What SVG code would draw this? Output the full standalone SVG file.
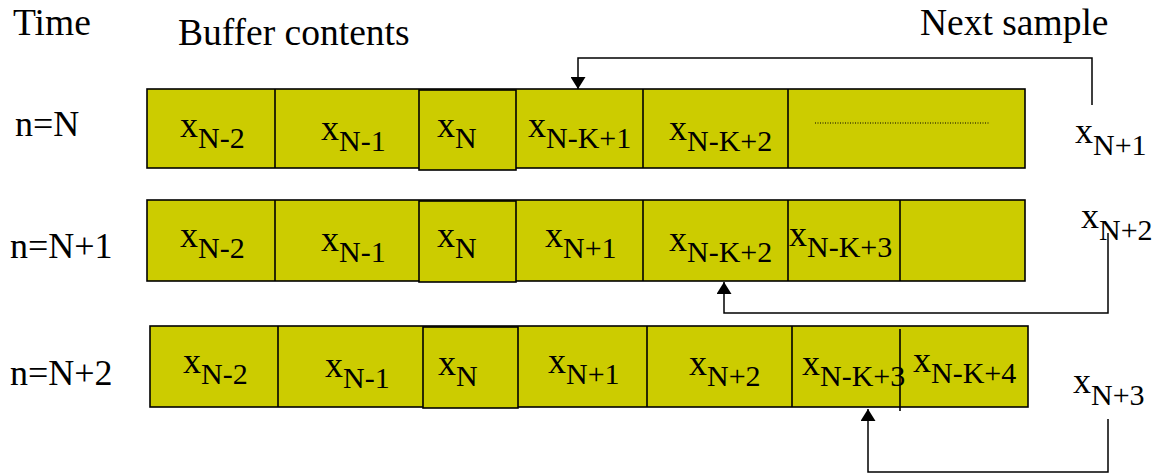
<svg xmlns="http://www.w3.org/2000/svg" width="1158" height="473" viewBox="0 0 1158 473">
<style>
text{font-family:'Liberation Serif','Tinos','DejaVu Serif',serif;font-size:36px;fill:#000}
.lbl{font-size:37.5px}
.s{font-size:30px}
.cell{fill:#CCCC00;stroke:#000;stroke-width:1.6}
.div{stroke:#000;stroke-width:1.6;fill:none}
.con{stroke:#000;stroke-width:1.5;fill:none}
</style>
<defs>
<marker id="ah" viewBox="0 0 12 15" refX="12" refY="7.5" markerWidth="12" markerHeight="15" markerUnits="userSpaceOnUse" orient="auto">
<path d="M0,0 L12,7.5 L0,15 Z" fill="#000"/>
</marker>
</defs>
<g id="labels">
<text class="lbl" x="13" y="35">Time</text>
<text class="lbl" x="178" y="45">Buffer contents</text>
<text class="lbl" x="920" y="35">Next sample</text>
<text x="15" y="136">n=N</text>
<text x="10" y="258">n=N+1</text>
<text x="10" y="385">n=N+2</text>
</g>
<g id="row1">
<rect class="cell" x="147" y="89" width="878" height="79"/>
<rect class="cell" x="419" y="90" width="97" height="80"/>
<line class="div" x1="275" y1="89" x2="275" y2="168"/>
<line class="div" x1="643" y1="89" x2="643" y2="168"/>
<line class="div" x1="788" y1="89" x2="788" y2="168"/>
<line x1="815" y1="123" x2="989" y2="123" stroke="#000" stroke-width="1" stroke-dasharray="1 1.5"/>
<text x="180" y="137">x<tspan class="s" dy="11">N-2</tspan></text>
<text x="321" y="140">x<tspan class="s" dy="11">N-1</tspan></text>
<text x="437" y="137">x<tspan class="s" dy="11">N</tspan></text>
<text x="528" y="137">x<tspan class="s" dy="11">N-K+1</tspan></text>
<text x="669" y="140">x<tspan class="s" dy="11">N-K+2</tspan></text>
</g>
<g id="row2">
<rect class="cell" x="147" y="200" width="878" height="81"/>
<rect class="cell" x="419" y="201" width="97" height="81"/>
<line class="div" x1="275" y1="200" x2="275" y2="281"/>
<line class="div" x1="643" y1="200" x2="643" y2="281"/>
<line class="div" x1="788" y1="200" x2="788" y2="281"/>
<line class="div" x1="900" y1="200" x2="900" y2="281"/>
<text x="180" y="247">x<tspan class="s" dy="11">N-2</tspan></text>
<text x="321" y="251">x<tspan class="s" dy="11">N-1</tspan></text>
<text x="437" y="247">x<tspan class="s" dy="11">N</tspan></text>
<text x="545" y="247">x<tspan class="s" dy="11">N+1</tspan></text>
<text x="669" y="251">x<tspan class="s" dy="11">N-K+2</tspan></text>
<text x="789" y="246">x<tspan class="s" dy="11">N-K+3</tspan></text>
</g>
<g id="row3">
<rect class="cell" x="150" y="326" width="878" height="81"/>
<rect class="cell" x="423" y="327" width="95" height="81"/>
<line class="div" x1="278" y1="326" x2="278" y2="407"/>
<line class="div" x1="647" y1="326" x2="647" y2="407"/>
<line class="div" x1="792" y1="326" x2="792" y2="407"/>
<line class="div" x1="900" y1="329" x2="900" y2="411"/>
<text x="183" y="373">x<tspan class="s" dy="11">N-2</tspan></text>
<text x="325" y="377">x<tspan class="s" dy="11">N-1</tspan></text>
<text x="438" y="375">x<tspan class="s" dy="11">N</tspan></text>
<text x="548" y="373">x<tspan class="s" dy="11">N+1</tspan></text>
<text x="689" y="375">x<tspan class="s" dy="11">N+2</tspan></text>
<text x="802" y="375">x<tspan class="s" dy="11">N-K+3</tspan></text>
<text x="913" y="372">x<tspan class="s" dy="11">N-K+4</tspan></text>
</g>
<g id="samples">
<text x="1075" y="143">x<tspan class="s" dy="12">N+1</tspan></text>
<text x="1081" y="228">x<tspan class="s" dy="12">N+2</tspan></text>
<text x="1073" y="393">x<tspan class="s" dy="12">N+3</tspan></text>
</g>
<g id="connectors">
<polyline class="con" points="1092,105 1092,58 578,58 578,89" marker-end="url(#ah)"/>
<polyline class="con" points="1108,233 1108,313 724,313 724,282" marker-end="url(#ah)"/>
<polyline class="con" points="1108,419 1108,472 868,472 868,409" marker-end="url(#ah)"/>
</g>
</svg>
